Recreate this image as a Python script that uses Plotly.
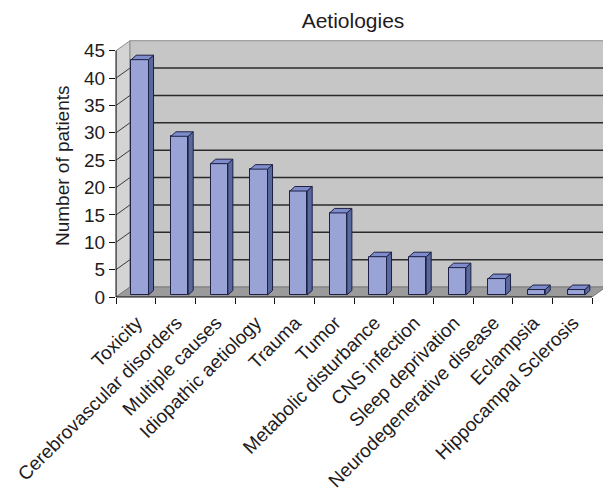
import plotly.graph_objects as go

categories = [
    "Toxicity", "Cerebrovascular disorders", "Multiple causes",
    "Idiopathic aetiology", "Trauma", "Tumor", "Metabolic disturbance",
    "CNS infection", "Sleep deprivation", "Neurodegenerative disease",
    "Eclampsia", "Hippocampal Sclerosis",
]
patients = [43, 29, 24, 23, 19, 15, 7, 7, 5, 3, 1, 1]
y_ticks = [0, 5, 10, 15, 20, 25, 30, 35, 40, 45]

# pseudo-3D box geometry, in axis units
N = len(categories)
X_MAX = 12.277          # visible x extent (back wall runs off to the right)
Y_MAX = 46.96
WALL_TOP = 45
DX, DY = 0.353, 1.827   # depth offset of the back wall
BAR_LEFT, BAR_W = 0.385, 0.435
SIDE_X, SIDE_Y = 0.126, 0.82
LIFT = 0.365            # bars stand slightly back from the front edge

FRONT = "#99A3D6"
SIDE = "#5A699D"
TOP = "#7E8CCB"
EDGE = "#1E2145"

FONT = "Liberation Sans, Arial, sans-serif"
INK = "#1F1C1D"

fig = go.Figure()

# front faces of the bars
centers = [i + BAR_LEFT + BAR_W / 2 for i in range(N)]
fig.add_trace(go.Bar(
    x=centers, y=patients, base=LIFT, width=BAR_W,
    marker=dict(color=FRONT, line=dict(color=EDGE, width=1)),
    hoverinfo="skip", showlegend=False,
))

# side and top faces
sx, sy, tx, ty = [], [], [], []
for i, v in enumerate(patients):
    xl = i + BAR_LEFT
    xr = xl + BAR_W
    b = LIFT
    t = LIFT + v
    sx += [xr, xr + SIDE_X, xr + SIDE_X, xr, xr, None]
    sy += [b, b + SIDE_Y, t + SIDE_Y, t, b, None]
    tx += [xl, xl + SIDE_X, xr + SIDE_X, xr, xl, None]
    ty += [t, t + SIDE_Y, t + SIDE_Y, t, t, None]
fig.add_trace(go.Scatter(x=sx, y=sy, mode="lines", fill="toself", fillcolor=SIDE,
                         line=dict(color=EDGE, width=1), hoverinfo="skip", showlegend=False))
fig.add_trace(go.Scatter(x=tx, y=ty, mode="lines", fill="toself", fillcolor=TOP,
                         line=dict(color=EDGE, width=1), hoverinfo="skip", showlegend=False))

shapes = []
# left side wall
shapes.append(dict(type="path", layer="below",
                   path=f"M 0,0 L 0,{WALL_TOP} L {DX},{WALL_TOP + DY} L {DX},{DY} Z",
                   fillcolor="#D4D4D4", line=dict(color="#8C8C8C", width=1)))
# back wall
shapes.append(dict(type="rect", layer="below", x0=DX, y0=DY, x1=X_MAX + 1, y1=WALL_TOP + DY,
                   fillcolor="#C6C6C6", line=dict(color="#8C8C8C", width=1)))
# floor
shapes.append(dict(type="path", layer="below",
                   path=f"M 0,0 L {N},0 L {N + DX},{DY} L {DX},{DY} Z",
                   fillcolor="#9B9B9B", line=dict(color="#7A7A7A", width=1)))
# gridlines on the back wall and the side wall
for v in y_ticks[1:-1]:
    shapes.append(dict(type="line", layer="below", x0=DX, x1=X_MAX + 1, y0=v + DY, y1=v + DY,
                       line=dict(color="#2A2A2A", width=1.5)))
    shapes.append(dict(type="line", layer="below", x0=0, x1=DX, y0=v, y1=v + DY,
                       line=dict(color="#3A3A3A", width=1)))
# front axis lines
shapes.append(dict(type="line", xref="paper", yref="y", x0=0, x1=0, y0=0, y1=WALL_TOP,
                   line=dict(color="#111111", width=1)))
shapes.append(dict(type="line", xref="x", yref="paper", x0=0, x1=N, y0=0, y1=0,
                   line=dict(color="#111111", width=1)))

fig.update_layout(
    width=603, height=496,
    margin=dict(l=116, r=0, t=40, b=199, autoexpand=False),
    paper_bgcolor="white", plot_bgcolor="white",
    font=dict(family=FONT, size=19, color=INK),
    title=dict(text="Aetiologies", x=353 / 603, y=1 - 21 / 496, xref="container",
               yref="container", xanchor="center", yanchor="middle",
               font=dict(family=FONT, size=21, color=INK)),
    shapes=shapes,
    bargap=0,
    xaxis=dict(range=[0, X_MAX], tickmode="array", tickvals=[i + 0.5 for i in range(N)],
               ticktext=categories, tickangle=-45, ticks="", showgrid=False, zeroline=False,
               showline=False, tickfont=dict(size=19, color=INK), automargin=False,
               ticklabelstandoff=10, ticklabelshift=1,
               minor=dict(tickmode="array", tickvals=list(range(N + 1)), ticks="outside",
                          ticklen=6, tickcolor="#111111", tickwidth=1, showgrid=False)),
    yaxis=dict(range=[0, Y_MAX], tickmode="array", tickvals=y_ticks, ticks="outside",
               ticklen=6, tickcolor="#111111", tickwidth=1, showgrid=False, zeroline=False,
               showline=False, tickfont=dict(size=19, color=INK), automargin=False),
    annotations=[dict(text="Number of patients", xref="paper", yref="paper",
                      x=(62 - 116) / 487, y=(297 - 166) / 257, xanchor="center",
                      yanchor="middle", textangle=-90, showarrow=False,
                      font=dict(family=FONT, size=19, color=INK))],
)

fig.write_html("out.html")
